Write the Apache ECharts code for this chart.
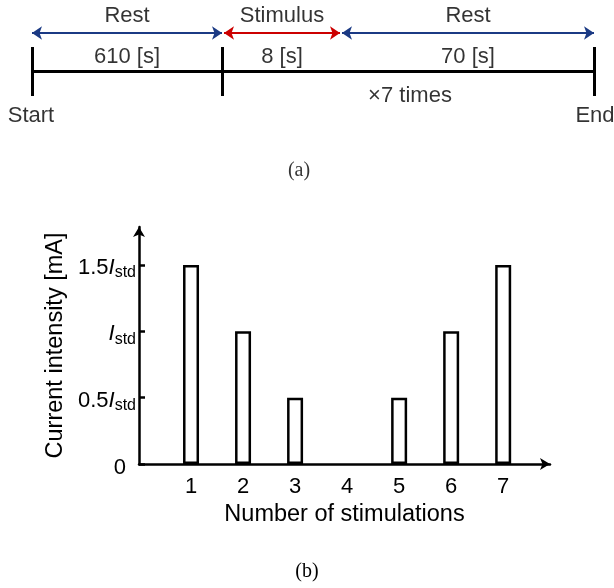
<!DOCTYPE html>
<html>
<head>
<meta charset="utf-8">
<script src="https://cdn.jsdelivr.net/npm/echarts@6/dist/echarts.min.js"></script>
<style>
html, body { margin: 0; padding: 0; background: #fff; }
#main { width: 614px; height: 588px; }
</style>
</head>
<body>
<div id="main"></div>
<script>
// (a) protocol timeline
var phaseNames = ['Rest', 'Stimulus', 'Rest'];
var phaseDurations = ['610 [s]', '8 [s]', '70 [s]'];
var repeatLabel = '\u00d77 times';
var startLabel = 'Start';
var endLabel = 'End';
// schematic extents of each phase on the drawing (not to scale)
var phaseFrom = [32, 224, 342];
var phaseTo = [222, 340, 594];
var tickAt = [32, 222, 594];

// (b) stimulation intensities, in units of I_std
var stimNumbers = [1, 2, 3, 4, 5, 6, 7];
var intensity = [1.5, 1, 0.5, 0, 0.5, 1, 1.5];
var yTickValues = [0, 0.5, 1, 1.5];
var yTickCoef = ['0', '0.5', '', '1.5'];

var FONT = 'Liberation Sans';
var SERIF = 'Liberation Serif';
var phaseColor = ['#1b3a84', '#cc0000', '#1b3a84'];

var chart = echarts.init(document.getElementById('main'));

var arrowData = phaseNames.map(function (n, i) {
    return {
        coords: [[phaseFrom[i], 33], [phaseTo[i], 33]],
        lineStyle: { color: phaseColor[i] }
    };
});
var tickData = tickAt.map(function (x) {
    return { coords: [[x, 47], [x, 96]] };
});
tickData.push({ coords: [[tickAt[0], 71], [tickAt[tickAt.length - 1], 71]] });

var textData = [];
phaseNames.forEach(function (n, i) {
    var mid = (phaseFrom[i] + phaseTo[i]) / 2;
    textData.push({ value: [mid, 16], name: n });
    textData.push({ value: [mid, 57], name: phaseDurations[i] });
});
textData.push({ value: [410, 96], name: repeatLabel });
textData.push({ value: [31, 116], name: startLabel });
textData.push({ value: [595, 116], name: endLabel });
textData.push({ value: [299, 171], name: '(a)', label: { fontFamily: SERIF, fontSize: 20 } });

var barData = stimNumbers.map(function (n, i) {
    var item = { value: [n, intensity[i]] };
    if (intensity[i] === 0) item.itemStyle = { borderWidth: 0 };
    return item;
});

option = {
    animation: false,
    grid: [{
        left: 139,
        top: 227,
        width: 411,
        height: 237
    }, {
        left: 0,
        top: 0,
        width: 614,
        height: 200
    }],
    xAxis: [{
        type: 'value',
        gridIndex: 0,
        min: 0,
        max: 7.9,
        interval: 1,
        name: 'Number of stimulations',
        nameLocation: 'middle',
        nameGap: 39,
        nameTextStyle: { fontFamily: FONT, fontSize: 23.5, color: '#000' },
        axisLine: {
            lineStyle: { color: '#000', width: 2.5 },
            symbol: ['none', 'arrow'],
            symbolSize: [9, 10]
        },
        axisTick: { show: false },
        splitLine: { show: false },
        axisLabel: {
            customValues: stimNumbers,
            fontFamily: FONT,
            fontSize: 22,
            color: '#000',
            margin: 12
        }
    }, {
        type: 'value',
        gridIndex: 1,
        min: 0,
        max: 614,
        show: false
    }],
    yAxis: [{
        type: 'value',
        gridIndex: 0,
        min: 0,
        max: 1.786,
        name: 'Current intensity [mA]',
        nameLocation: 'middle',
        nameGap: 69,
        nameRotate: 90,
        nameTextStyle: { fontFamily: FONT, fontSize: 23.5, color: '#000' },
        axisLine: {
            show: true,
            lineStyle: { color: '#000', width: 2.5 },
            symbol: ['none', 'arrow'],
            symbolSize: [9, 10]
        },
        axisTick: {
            show: true,
            inside: true,
            length: 6,
            customValues: yTickValues,
            lineStyle: { color: '#000', width: 2.5 }
        },
        splitLine: { show: false },
        axisLabel: {
            customValues: yTickValues,
            margin: 3,
            padding: [6, 0, 0, 0],
            formatter: function (v) {
                var k = yTickValues.indexOf(v);
                if (k === 0) return '{z|0}';
                var c = yTickCoef[k];
                return (c ? '{n|' + c + '}' : '') + '{i|I}{s|std}';
            },
            rich: {
                z: { fontFamily: FONT, fontSize: 22, color: '#000', padding: [2, 10, 0, 0] },
                n: { fontFamily: FONT, fontSize: 22, color: '#000' },
                i: { fontFamily: FONT, fontSize: 22, fontStyle: 'italic', color: '#000' },
                s: { fontFamily: FONT, fontSize: 16, color: '#000', padding: [10, 0, 0, 0] }
            }
        }
    }, {
        type: 'value',
        gridIndex: 1,
        min: 0,
        max: 200,
        inverse: true,
        show: false
    }],
    series: [{
        type: 'bar',
        xAxisIndex: 0,
        yAxisIndex: 0,
        data: barData,
        barWidth: 16,
        itemStyle: { color: '#fff', borderColor: '#000', borderWidth: 2.5 }
    }, {
        type: 'lines',
        coordinateSystem: 'cartesian2d',
        xAxisIndex: 1,
        yAxisIndex: 1,
        symbol: ['arrow', 'arrow'],
        symbolSize: 10,
        lineStyle: { width: 2, opacity: 1 },
        data: arrowData
    }, {
        type: 'lines',
        coordinateSystem: 'cartesian2d',
        xAxisIndex: 1,
        yAxisIndex: 1,
        lineStyle: { color: '#000', width: 3, opacity: 1 },
        data: tickData
    }, {
        type: 'scatter',
        xAxisIndex: 1,
        yAxisIndex: 1,
        symbolSize: 0,
        label: {
            show: true,
            position: 'inside',
            formatter: '{b}',
            fontFamily: FONT,
            fontSize: 22,
            color: '#000'
        },
        data: textData
    }],
    graphic: [{
        type: 'text',
        left: 'center',
        top: 562,
        style: { text: '(b)', font: '20px "Liberation Serif"', fill: '#000' }
    }]
};

chart.setOption(option);
</script>
</body>
</html>
